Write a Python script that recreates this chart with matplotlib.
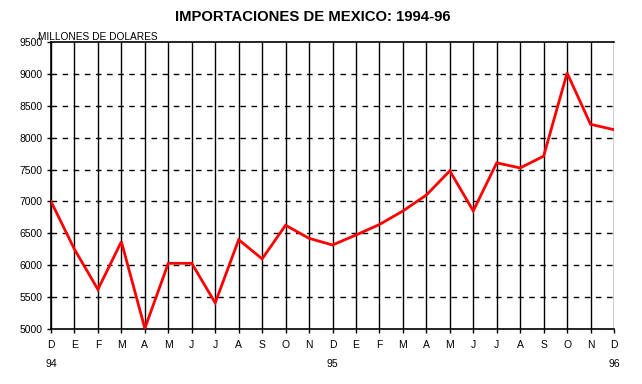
import matplotlib
matplotlib.use("Agg")
import matplotlib.pyplot as plt
import matplotlib.transforms as mtransforms

months = ["D", "E", "F", "M", "A", "M", "J", "J", "A", "S", "O", "N",
          "D", "E", "F", "M", "A", "M", "J", "J", "A", "S", "O", "N", "D"]
years = {0: "94", 12: "95", 24: "96"}
imports = [7000, 6250, 5620, 6370, 5010, 6030, 6030, 5410, 6400, 6100, 6627, 6422,
           6317, 6474, 6638, 6850, 7100, 7480, 6852, 7605, 7525, 7710, 9015, 8210, 8125]
yticks = [5000, 5500, 6000, 6500, 7000, 7500, 8000, 8500, 9000, 9500]

plt.rcParams['font.family'] = ['Liberation Sans', 'DejaVu Sans']

fig = plt.figure(figsize=(6.42, 3.84), dpi=100)
ax = fig.add_axes([51/642, 1-329/384, (614-51)/642, (329-42)/384])

x = list(range(len(months)))
ax.set_xlim(0, len(months)-1)
ax.set_ylim(5000, 9500)

for xi in x:
    ax.axvline(xi, color='black', lw=1.0, zorder=1)
for yv in yticks[1:-1]:
    ax.axhline(yv, color='black', lw=1.0, ls=(0, (4, 4)), zorder=1)

ax.plot(x, imports, color='#ff0000', lw=2.0, zorder=3, solid_joinstyle='miter')

ax.set_yticks(yticks)
ax.set_yticklabels([str(v) for v in yticks], fontsize=7.5)
ax.set_xticks(x)
ax.set_xticklabels(months, fontsize=7.5)
ax.tick_params(axis='both', direction='out', length=3, width=1, color='black', pad=3)
ax.tick_params(axis='x', pad=5)

for s in ['left', 'bottom', 'top']:
    ax.spines[s].set_color('black')
    ax.spines[s].set_linewidth(1.2)
ax.spines['right'].set_visible(False)

trans = mtransforms.blended_transform_factory(ax.transData, fig.transFigure)
for i, yr in years.items():
    ax.text(i, 1-364/384, yr, transform=trans, ha='center', va='center', fontsize=7.5)

fig.text(38/642, 1-37/384, "MILLONES DE DOLARES", ha='left', va='center', fontsize=7.3)
fig.text(313/642, 1-17/384, "IMPORTACIONES DE MEXICO: 1994-96", ha='center', va='center',
         fontsize=10.7, fontweight='bold')

fig.savefig("out.png", dpi=100)
